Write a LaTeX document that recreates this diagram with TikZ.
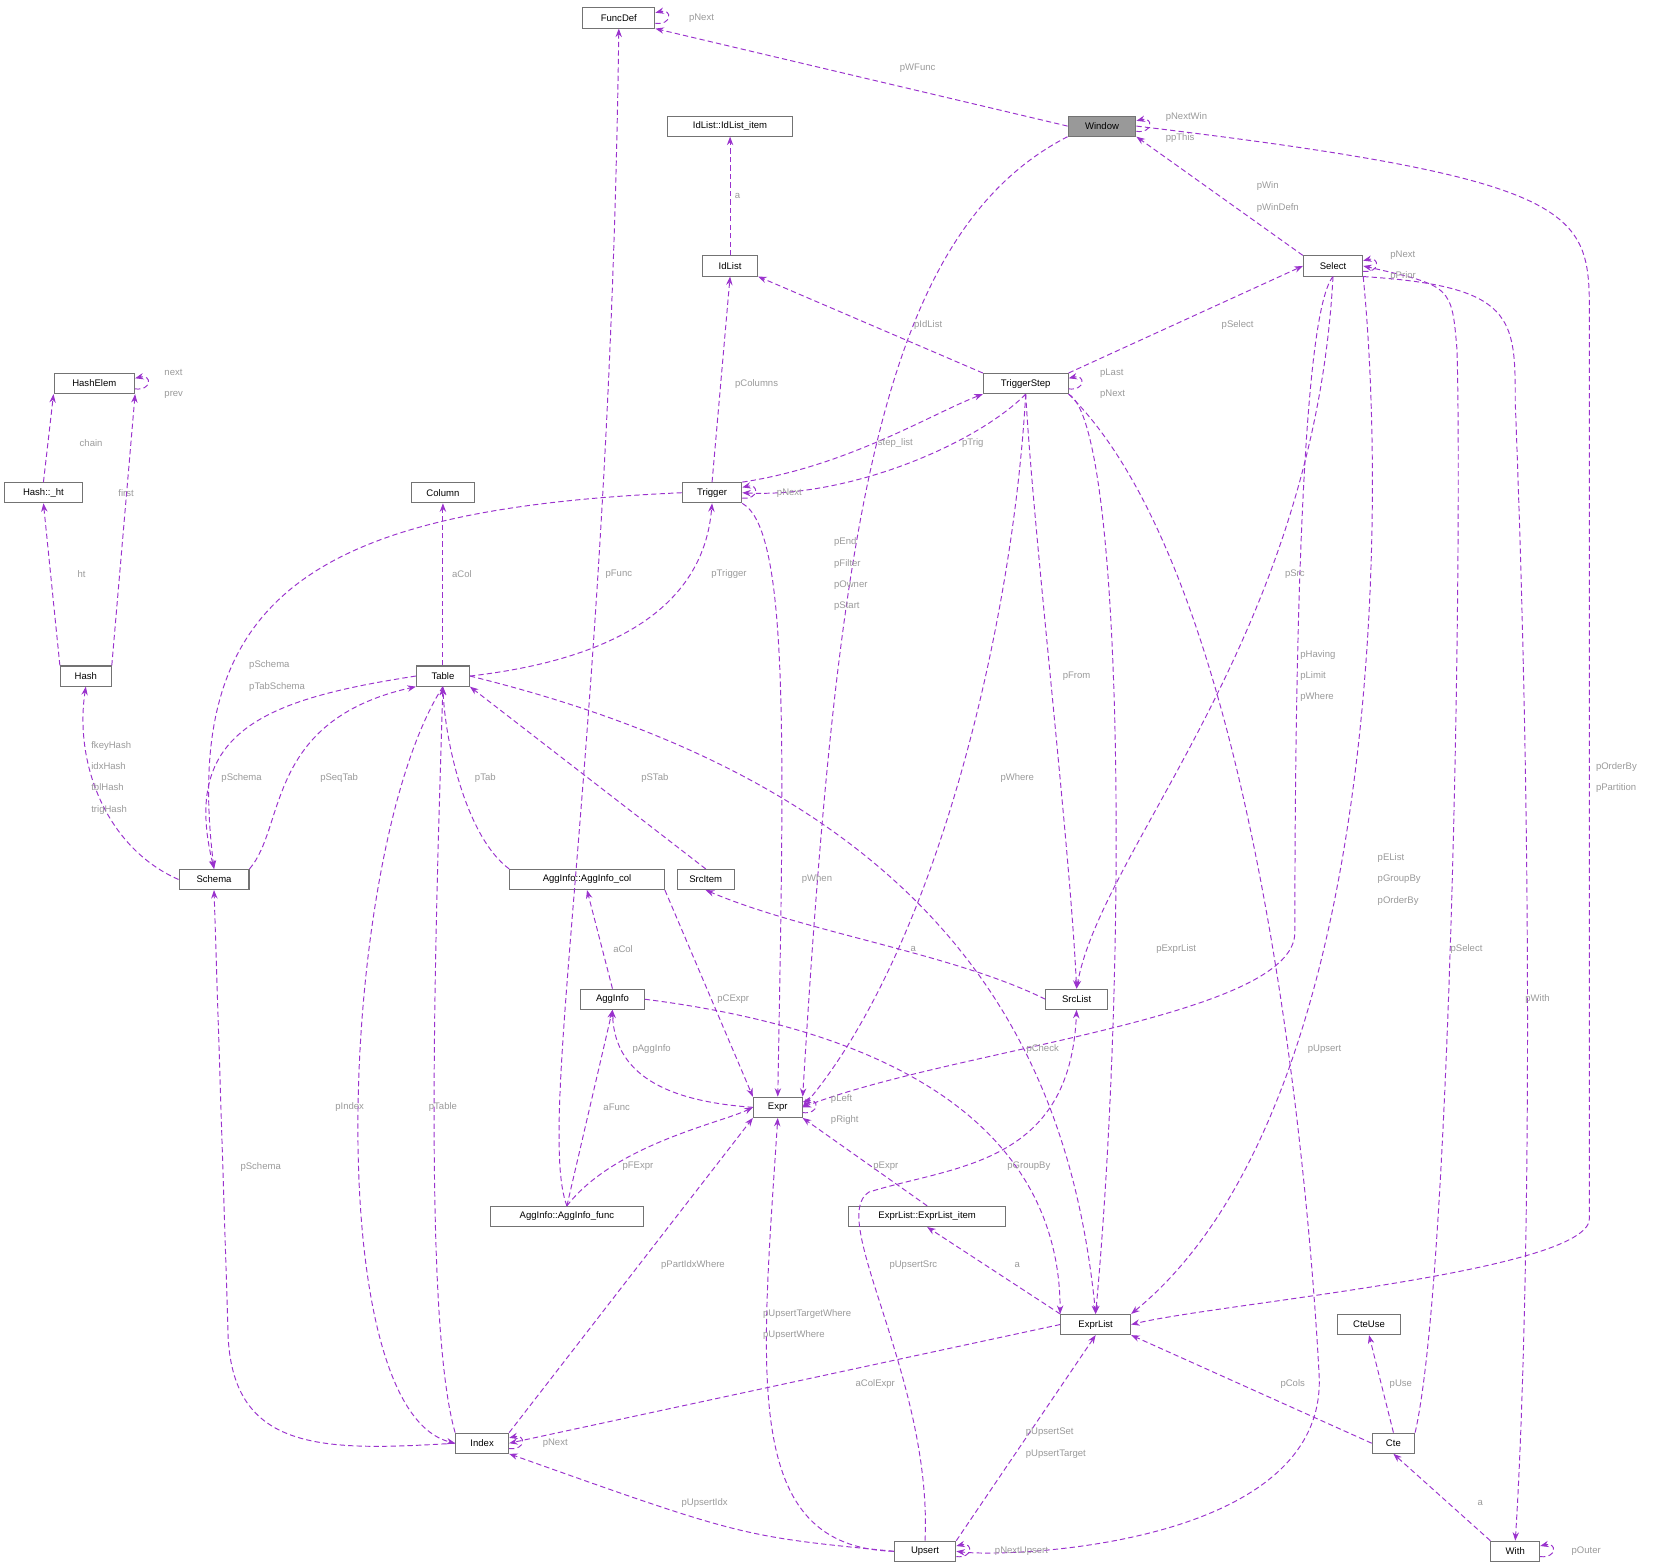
\documentclass[tikz,border=0pt]{standalone}
\usepackage{fontspec}
\setmainfont{Liberation Sans}
\usetikzlibrary{arrows.meta}
\definecolor{ec}{HTML}{9A32CD}
\definecolor{lc}{HTML}{9A9A9A}
\begin{document}
\begin{tikzpicture}[x=1pt,y=-1pt,
 box/.style={draw=gray!90!black,line width=1pt,fill=white,minimum height=19pt,inner sep=1pt,font=\fontsize{9}{10}\selectfont},
 edge/.style={draw=ec,dashed,dash pattern=on 5pt off 3pt,line width=0.9pt,-{Stealth[length=8pt,width=6pt]}},
 lbl/.style={text=lc,font=\fontsize{9}{20}\selectfont,inner sep=0pt,align=left}]
\useasboundingbox[fill=white] (0,0) rectangle (1560,1475);
% nodes
\node[box,minimum width=68pt] (FuncDef) at (584,17) {FuncDef};
\node[box,minimum width=64pt,fill=gray!80] (Window) at (1040,119) {Window};
\node[box,minimum width=118pt] (IdItem) at (689,119) {IdList::IdList\_item};
\node[box,minimum width=52pt] (IdList) at (689,251) {IdList};
\node[box,minimum width=56pt] (Select) at (1258,251) {Select};
\node[box,minimum width=76pt] (HashElem) at (89,362) {HashElem};
\node[box,minimum width=80pt] (TStep) at (968,362) {TriggerStep};
\node[box,minimum width=74pt] (Ht) at (41,465) {Hash::\_ht};
\node[box,minimum width=60pt] (Column) at (418,465) {Column};
\node[box,minimum width=56pt] (Trigger) at (672,465) {Trigger};
\node[box,minimum width=48pt] (Hash) at (81,638) {Hash};
\node[box,minimum width=50pt] (Table) at (418,638) {Table};
\node[box,minimum width=66pt] (Schema) at (202,830) {Schema};
\node[box,minimum width=146pt] (AggCol) at (554,830) {AggInfo::AggInfo\_col};
\node[box,minimum width=54pt] (SrcItem) at (666,830) {SrcItem};
\node[box,minimum width=60pt] (AggInfo) at (578,943) {AggInfo};
\node[box,minimum width=58pt] (SrcList) at (1016,943) {SrcList};
\node[box,minimum width=46pt] (Expr) at (734,1045) {Expr};
\node[box,minimum width=144pt] (AggFunc) at (535,1148) {AggInfo::AggInfo\_func};
\node[box,minimum width=148pt] (ELItem) at (875,1148) {ExprList::ExprList\_item};
\node[box,minimum width=66pt] (ExprList) at (1034,1250) {ExprList};
\node[box,minimum width=60pt] (CteUse) at (1292,1250) {CteUse};
\node[box,minimum width=50pt] (Index) at (455,1362) {Index};
\node[box,minimum width=40pt] (Cte) at (1315,1362) {Cte};
\node[box,minimum width=58pt] (Upsert) at (873,1464) {Upsert};
\node[box,minimum width=46pt] (With) at (1430,1464) {With};
% self loops
\foreach \n in {FuncDef,Window,Select,HashElem,TStep,Trigger,Expr,Index,Upsert,With}{
 \draw[edge] ([yshift=-5pt]\n.east) .. controls +(16pt,-2pt) and +(16pt,4pt) .. ([yshift=5pt]\n.east);}
% edges
\draw[edge] (Window.west) -- (FuncDef.south east);
\draw[edge] (IdList) -- (IdItem);
\draw[edge] (Select.north west) -- (Window.south east);
\draw[edge] (TStep.north west) -- (IdList.south east);
\draw[edge] (TStep.north east) -- (Select.west);
\draw[edge] (Ht.north) -- (HashElem.south west);
\draw[edge] (Hash.north east) -- (HashElem.south east);
\draw[edge] (Trigger.north) -- (IdList.south);
\draw[edge] (Trigger.north east) .. controls (800,440) and (880,390) .. (TStep.south west);
\draw[edge] (TStep.south) .. controls (920,420) and (800,470) .. (Trigger.east);
\draw[edge] (Hash.north west) -- (Ht.south);
\draw[edge] (Table.north) -- (Column.south);
\draw[edge] (Table.east) .. controls (600,620) and (665,560) .. (Trigger.south);
\draw[edge] (AggFunc.north) .. controls (505,1060) and (575,700) .. (FuncDef.south);
\draw[edge] (Window.south west) .. controls (830,220) and (790,500) .. (Expr.north east);
\draw[edge] (Trigger.west) .. controls (300,480) and (170,560) .. (Schema.north);
\draw[edge] (Table.west) .. controls (250,660) and (170,690) .. (Schema.north);
\draw[edge] (Schema.north east) .. controls (270,780) and (250,680) .. (Table.south west);
\draw[edge] (Schema.west) .. controls (100,800) and (70,720) .. (Hash.south);
\draw[edge] (Trigger.south east) .. controls (745,500) and (740,700) .. (Expr.north);
\draw[edge] (TStep.south) .. controls (975,500) and (1010,800) .. (SrcList.north);
\draw[edge] (TStep.south) .. controls (955,600) and (880,900) .. (Expr.east);
\draw[edge] (TStep.south east) .. controls (1060,400) and (1065,900) .. (ExprList.north);
\draw[edge] (TStep.south east) .. controls (1200,560) and (1240,1200) .. (1245,1300) .. controls (1250,1460) and (950,1470) .. (Upsert.east);
\draw[edge] (Select.south) .. controls (1240,600) and (1040,800) .. (SrcList.north);
\draw[edge] (Select.south) .. controls (1225,300) and (1222,700) .. (1222,880) .. controls (1222,960) and (900,990) .. (Expr.east);
\draw[edge] (Select.south east) .. controls (1310,500) and (1300,1050) .. (ExprList.north east);
\draw[edge] (Window.east) .. controls (1500,170) and (1500,200) .. (1500,300) -- (1500,1150) .. controls (1500,1200) and (1150,1230) .. (ExprList.east);
\draw[edge] (Select.south east) .. controls (1430,270) and (1430,300) .. (1430,380) .. controls (1450,900) and (1440,1300) .. (With.north);
\draw[edge] (Cte.north east) .. controls (1370,1200) and (1380,500) .. (1375,330) .. controls (1370,270) .. (Select.east);
\draw[edge] (Table.east) .. controls (900,750) and (1010,1000) .. (ExprList.north);
\draw[edge] (Table.south) .. controls (320,800) and (300,1330) .. (Index.west);
\draw[edge] (Index.north west) .. controls (400,1250) and (410,900) .. (Table.south);
\draw[edge] (AggCol.north west) .. controls (440,790) and (420,700) .. (Table.south);
\draw[edge] (SrcItem.north) -- (Table.south east);
\draw[edge] (SrcList.west) .. controls (900,900) and (760,880) .. (SrcItem.south);
\draw[edge] (AggInfo.north) -- (AggCol.south);
\draw[edge] (AggCol.south east) -- (Expr.north west);
\draw[edge] (Expr.west) .. controls (640,1040) and (580,1020) .. (AggInfo.south);
\draw[edge] (AggInfo.east) .. controls (900,980) and (1000,1100) .. (ExprList.north west);
\draw[edge] (AggFunc.north) -- (AggInfo.south);
\draw[edge] (AggFunc.north) .. controls (580,1080) and (680,1060) .. (Expr.west);
\draw[edge] (ELItem.north) -- (Expr.south east);
\draw[edge] (ExprList.north west) -- (ELItem.south);
\draw[edge] (Index.north east) -- (Expr.south west);
\draw[edge] (Index.west) .. controls (300,1370) and (215,1370) .. (215,1250) -- (Schema.south);
\draw[edge] (ExprList.west) -- (Index.east);
\draw[edge] (Upsert.west) .. controls (700,1460) and (718,1300) .. (Expr.south);
\draw[edge] (Upsert.north) .. controls (880,1300) and (780,1150) .. (820,1125) .. controls (900,1100) and (1010,1100) .. (SrcList.south);
\draw[edge] (Upsert.north east) -- (ExprList.south);
\draw[edge] (Upsert.west) .. controls (700,1450) .. (Index.south east);
\draw[edge] (Cte.west) -- (ExprList.south east);
\draw[edge] (Cte.north) -- (CteUse.south);
\draw[edge] (With.north west) -- (Cte.south);
% labels
\node[lbl] (t1) at (662,17) {pNext};
\node[lbl] (t2) at (866,64) {pWFunc};
\node[lbl,anchor=west] (t3) at (1100,120) {pNextWin\\ppThis};
\node[lbl] (t4) at (696,185) {a};
\node[lbl,anchor=west] (t5) at (1186,186) {pWin\\pWinDefn};
\node[lbl,anchor=west] (t6) at (1312,251) {pNext\\pPrior};
\node[lbl] (t7) at (876,307) {pIdList};
\node[lbl] (t8) at (1168,307) {pSelect};
\node[lbl,anchor=west] (t9) at (155,362) {next\\prev};
\node[lbl,anchor=west] (t10) at (1038,362) {pLast\\pNext};
\node[lbl] (t11) at (86,418) {chain};
\node[lbl] (t12) at (119,465) {first};
\node[lbl] (t13) at (714,362) {pColumns};
\node[lbl] (t14) at (845,418) {step\_list};
\node[lbl] (t15) at (918,418) {pTrig};
\node[lbl] (t16) at (745,465) {pNext};
\node[lbl] (t17) at (77,542) {ht};
\node[lbl] (t18) at (436,542) {aCol};
\node[lbl] (t19) at (688,542) {pTrigger};
\node[lbl] (t20) at (584,542) {pFunc};
\node[lbl,anchor=west] (t21) at (787,542) {pEnd\\pFilter\\pOwner\\pStart};
\node[lbl,anchor=west] (t22) at (235,638) {pSchema\\pTabSchema};
\node[lbl,anchor=west] (t23) at (86,734) {fkeyHash\\idxHash\\tblHash\\trigHash};
\node[lbl] (t24) at (228,734) {pSchema};
\node[lbl] (t25) at (320,734) {pSeqTab};
\node[lbl] (t26) at (458,734) {pTab};
\node[lbl] (t27) at (618,734) {pSTab};
\node[lbl] (t28) at (771,830) {pWhen};
\node[lbl] (t29) at (1016,638) {pFrom};
\node[lbl] (t30) at (960,734) {pWhere};
\node[lbl] (t31) at (1110,896) {pExprList};
\node[lbl] (t32) at (1250,990) {pUpsert};
\node[lbl] (t33) at (1222,542) {pSrc};
\node[lbl,anchor=west] (t34) at (1227,638) {pHaving\\pLimit\\pWhere};
\node[lbl,anchor=west] (t35) at (1300,830) {pEList\\pGroupBy\\pOrderBy};
\node[lbl,anchor=west] (t36) at (1506,734) {pOrderBy\\pPartition};
\node[lbl] (t37) at (1451,943) {pWith};
\node[lbl] (t38) at (1384,896) {pSelect};
\node[lbl] (t39) at (984,990) {pCheck};
\node[lbl] (t40) at (330,1045) {pIndex};
\node[lbl] (t41) at (418,1045) {pTable};
\node[lbl] (t42) at (862,896) {a};
\node[lbl] (t43) at (588,896) {aCol};
\node[lbl] (t44) at (692,943) {pCExpr};
\node[lbl] (t45) at (615,990) {pAggInfo};
\node[lbl] (t46) at (971,1101) {pGroupBy};
\node[lbl,anchor=west] (t47) at (784,1047) {pLeft\\pRight};
\node[lbl] (t48) at (582,1045) {aFunc};
\node[lbl] (t49) at (602,1101) {pFExpr};
\node[lbl] (t50) at (836,1101) {pExpr};
\node[lbl] (t51) at (960,1194) {a};
\node[lbl] (t52) at (654,1194) {pPartIdxWhere};
\node[lbl] (t53) at (246,1101) {pSchema};
\node[lbl] (t54) at (826,1306) {aColExpr};
\node[lbl] (t55) at (524,1362) {pNext};
\node[lbl,anchor=west] (t56) at (720,1250) {pUpsertTargetWhere\\pUpsertWhere};
\node[lbl] (t57) at (862,1194) {pUpsertSrc};
\node[lbl,anchor=west] (t58) at (968,1362) {pUpsertSet\\pUpsertTarget};
\node[lbl] (t59) at (665,1418) {pUpsertIdx};
\node[lbl] (t60) at (964,1464) {pNextUpsert};
\node[lbl] (t61) at (1220,1306) {pCols};
\node[lbl] (t62) at (1322,1306) {pUse};
\node[lbl] (t63) at (1397,1418) {a};
\node[lbl] (t64) at (1497,1464) {pOuter};
\end{tikzpicture}
\end{document}
